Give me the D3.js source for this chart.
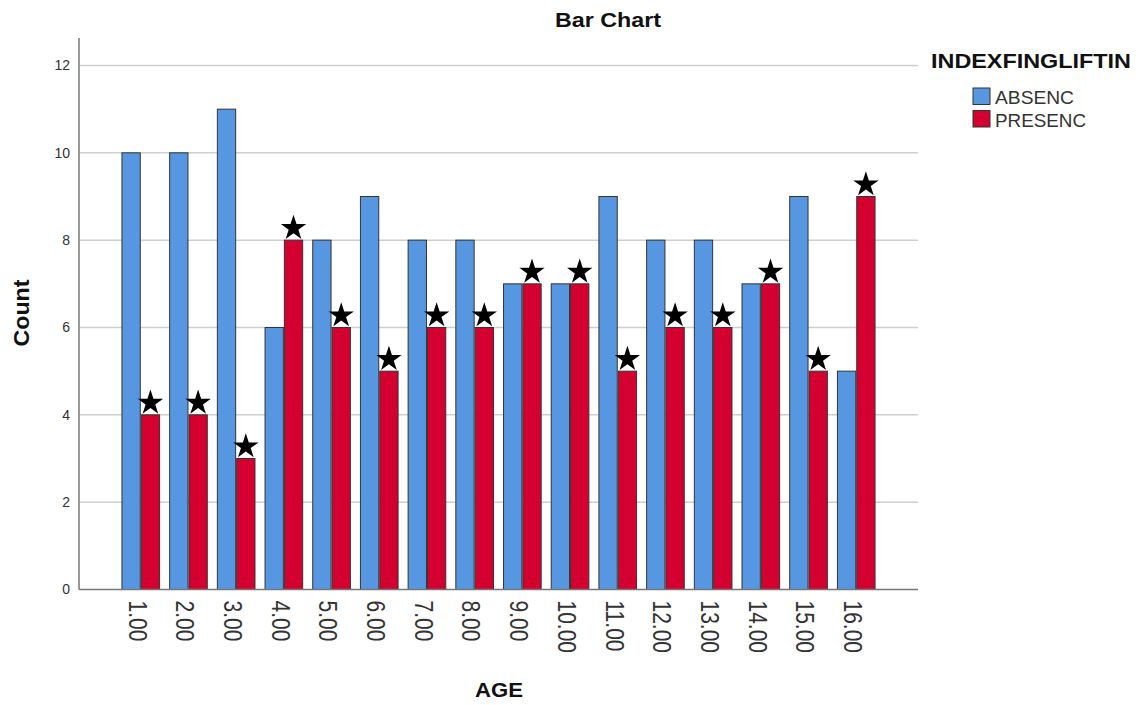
<!DOCTYPE html>
<html>
<head>
<meta charset="utf-8">
<script src="https://cdn.jsdelivr.net/npm/d3@7"></script>
<style>
  body { margin: 0; background: #fff; }
  text { font-family: "Liberation Sans", Arial, sans-serif; }
</style>
</head>
<body>
<div id="chart"></div>
<script>
// values
var ages = ["1.00","2.00","3.00","4.00","5.00","6.00","7.00","8.00","9.00","10.00","11.00","12.00","13.00","14.00","15.00","16.00"];
var groups = ["ABSENC", "PRESENC"];
var absenc  = [10,10,11,6,8,9,8,8,7,7,9,8,8,7,9,5];
var presenc = [4,4,3,8,6,5,6,6,7,7,5,6,6,7,5,9];
var yTicks = [0,2,4,6,8,10,12];
var colors = ["#5797e1", "#d4002f"];

(function () {
var W = 1138, H = 705;
var m = {left: 79, right: 918, top: 65.5, bottom: 589.5};

var svg = d3.select("#chart").append("svg")
	.attr("width", W)
	.attr("height", H);

var x = d3.scaleBand()
	.domain(ages)
	.range([m.left, m.right])
	.paddingInner(0.19)
	.paddingOuter(0.89);

var xs = d3.scaleBand()
	.domain(groups)
	.range([0, x.bandwidth()]);

var y = d3.scaleLinear()
	.domain([0, 12])
	.range([m.bottom, m.top]);

// gridlines
svg.append("g")
	.selectAll("line")
	.data(yTicks.filter(d => d > 0))
	.join("line")
		.attr("x1", m.left).attr("x2", m.right)
		.attr("y1", d => y(d)).attr("y2", d => y(d))
		.attr("stroke", "#cfcfcf")
		.attr("stroke-width", 1.5);

// y tick labels
svg.append("g")
	.selectAll("text")
	.data(yTicks)
	.join("text")
		.attr("x", 70)
		.attr("y", d => y(d))
		.attr("dy", "0.35em")
		.attr("text-anchor", "end")
		.attr("font-size", 14)
		.attr("fill", "#333")
		.text(d => d);

// bars
var rows = ages.map((a, i) => ({age: a, vals: [absenc[i], presenc[i]]}));

var grp = svg.append("g")
	.selectAll("g")
	.data(rows)
	.join("g")
		.attr("transform", d => `translate(${x(d.age)},0)`);

grp.selectAll("rect")
	.data(d => d.vals.map((v, j) => ({key: groups[j], v: v, j: j})))
	.join("rect")
		.attr("x", d => xs(d.key) + 0.5)
		.attr("width", xs.bandwidth() - 1)
		.attr("y", d => y(d.v))
		.attr("height", d => y(0) - y(d.v))
		.attr("fill", d => colors[d.j])
		.attr("stroke", "#333")
		.attr("stroke-width", 1);

// stars above the PRESENC bars
var star = d3.symbol().type(d3.symbolStar).size(200);
grp.append("path")
	.attr("d", star)
	.attr("transform", d => `translate(${xs("PRESENC") + xs.bandwidth() / 2},${y(d.vals[1]) - 12})`)
	.attr("fill", "#000");

// axis lines
svg.append("line")
	.attr("x1", m.left).attr("x2", m.left)
	.attr("y1", 38).attr("y2", m.bottom)
	.attr("stroke", "#999")
	.attr("stroke-width", 2);
svg.append("line")
	.attr("x1", m.left).attr("x2", m.right)
	.attr("y1", m.bottom).attr("y2", m.bottom)
	.attr("stroke", "#777")
	.attr("stroke-width", 1.5);

// x tick labels, turned down
svg.append("g")
	.selectAll("text")
	.data(ages)
	.join("text")
		.attr("transform", d => `translate(${x(d) + x.bandwidth() / 2 - 3},${m.bottom + 11}) rotate(90) scale(1,1.25)`)
		.attr("dy", "0.35em")
		.attr("font-size", 21)
		.attr("fill", "#333")
		.text(d => d);

// titles
svg.append("text")
	.attr("x", 608).attr("y", 27)
	.attr("text-anchor", "middle")
	.attr("font-size", 21)
	.attr("font-weight", "bold")
	.attr("fill", "#111")
	.attr("textLength", 106)
	.attr("lengthAdjust", "spacingAndGlyphs")
	.text("Bar Chart");

svg.append("text")
	.attr("transform", "translate(29,313) rotate(-90)")
	.attr("text-anchor", "middle")
	.attr("font-size", 22)
	.attr("font-weight", "bold")
	.attr("fill", "#111")
	.attr("textLength", 67)
	.attr("lengthAdjust", "spacingAndGlyphs")
	.text("Count");

svg.append("text")
	.attr("x", 499).attr("y", 697)
	.attr("text-anchor", "middle")
	.attr("font-size", 21)
	.attr("font-weight", "bold")
	.attr("fill", "#111")
	.attr("textLength", 48)
	.attr("lengthAdjust", "spacingAndGlyphs")
	.text("AGE");

// legend
svg.append("text")
	.attr("x", 931).attr("y", 68)
	.attr("font-size", 21)
	.attr("font-weight", "bold")
	.attr("fill", "#111")
	.attr("textLength", 200)
	.attr("lengthAdjust", "spacingAndGlyphs")
	.text("INDEXFINGLIFTIN");

var leg = svg.append("g")
	.selectAll("g")
	.data(groups)
	.join("g")
		.attr("transform", (d, i) => `translate(973,${88 + i * 22.5})`);
leg.append("rect")
	.attr("width", 17).attr("height", 16.5)
	.attr("fill", (d, i) => colors[i])
	.attr("stroke", "#333");
leg.append("text")
	.attr("x", 22).attr("y", 16)
	.attr("font-size", 17.5)
	.attr("fill", "#333")
	.attr("textLength", (d, i) => [79, 91][i])
	.attr("lengthAdjust", "spacingAndGlyphs")
	.text(d => d);
})();
</script>
</body>
</html>
